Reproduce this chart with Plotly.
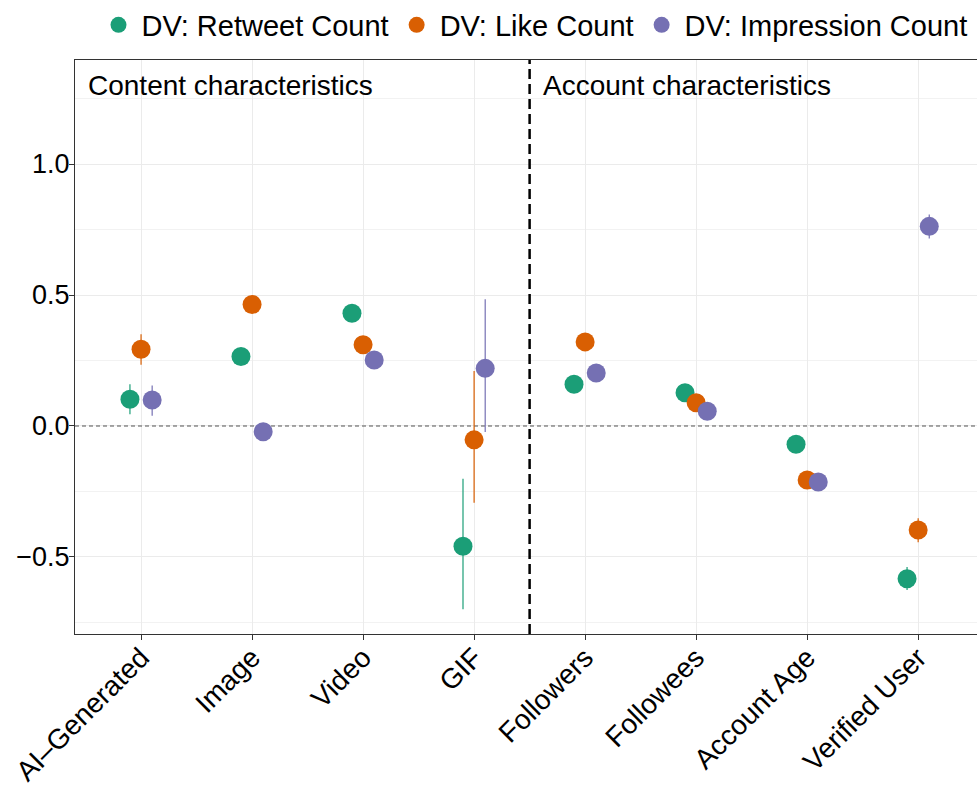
import plotly.graph_objects as go

# Predictors on the x axis
categories = ["AI–Generated", "Image", "Video", "GIF",
              "Followers", "Followees", "Account Age", "Verified User"]

# Standardised coefficient estimates per outcome
retweet_est = [0.102, 0.265, 0.430, -0.459, 0.159, 0.127, -0.070, -0.583]
like_est = [0.293, 0.464, 0.310, -0.053, 0.321, 0.089, -0.206, -0.397]
impression_est = [0.099, -0.022, 0.252, 0.220, 0.202, 0.056, -0.214, 0.762]

# 95% confidence bounds
retweet_lo = [0.045, 0.240, 0.405, -0.700, 0.135, 0.102, -0.095, -0.626]
retweet_hi = [0.159, 0.290, 0.455, -0.201, 0.183, 0.152, -0.045, -0.538]
like_lo = [0.234, 0.440, 0.285, -0.293, 0.296, 0.064, -0.231, -0.444]
like_hi = [0.350, 0.488, 0.335, 0.210, 0.346, 0.114, -0.181, -0.352]
impression_lo = [0.039, -0.047, 0.227, -0.023, 0.177, 0.031, -0.239, 0.716]
impression_hi = [0.155, 0.003, 0.277, 0.484, 0.227, 0.081, -0.189, 0.807]

series = [
    ("DV: Retweet Count", retweet_est, retweet_lo, retweet_hi, "#1B9E77", -0.1),
    ("DV: Like Count", like_est, like_lo, like_hi, "#D95F02", 0.0),
    ("DV: Impression Count", impression_est, impression_lo, impression_hi, "#7570B3", 0.1),
]

FONT = "Liberation Sans, Arial, sans-serif"
X_RANGE = [-0.595, 7.53]
Y_RANGE = [-0.794, 1.397]

fig = go.Figure()
for name, est, lo, hi, color, offset in series:
    xs = [i + offset for i in range(len(categories))]
    fig.add_trace(go.Scatter(
        x=xs, y=est, mode="markers", name=name,
        marker=dict(size=19, color=color, line=dict(width=0)),
        error_y=dict(
            type="data", symmetric=False,
            array=[h - e for h, e in zip(hi, est)],
            arrayminus=[e - l for e, l in zip(est, lo)],
            color=color, thickness=1.2, width=0,
        ),
        cliponaxis=False,
    ))

# zero reference line
fig.add_shape(type="line", xref="x", yref="y", x0=X_RANGE[0], x1=X_RANGE[1], y0=0, y1=0,
              line=dict(color="#555555", width=1.1, dash="4px,3px"), layer="between")
# separator between content and account predictors
fig.add_shape(type="line", xref="x", yref="y", x0=3.5, x1=3.5, y0=Y_RANGE[0], y1=Y_RANGE[1],
              line=dict(color="black", width=2.5, dash="10px,5px"))

fig.add_annotation(x=X_RANGE[0] + 0.1, y=1.298, xref="x", yref="y",
                   text="Content characteristics", showarrow=False,
                   xanchor="left", yanchor="middle",
                   font=dict(family=FONT, size=28, color="black"))
fig.add_annotation(x=3.6, y=1.298, xref="x", yref="y",
                   text="Account characteristics", showarrow=False,
                   xanchor="left", yanchor="middle",
                   font=dict(family=FONT, size=28, color="black"))

fig.update_layout(
    width=977, height=787,
    margin=dict(l=75, r=0, t=60, b=153, autoexpand=False),
    plot_bgcolor="white", paper_bgcolor="white",
    font=dict(family=FONT, size=28, color="black"),
    showlegend=True,
    legend=dict(
        orientation="h", x=0.995, xanchor="right",
        yref="container", y=1 - 25 / 787, yanchor="middle",
        font=dict(family=FONT, size=29, color="black"),
        itemsizing="trace", itemwidth=36, tracegroupgap=0,
        bgcolor="rgba(0,0,0,0)",
    ),
    xaxis=dict(
        range=X_RANGE, automargin=False,
        tickmode="array", tickvals=list(range(len(categories))), ticktext=categories,
        tickangle=-45, ticks="outside", ticklen=5, tickcolor="#333333", tickwidth=1,
        ticklabelstandoff=-10,
        showgrid=True, gridcolor="#EBEBEB", gridwidth=1.2,
        showline=True, linecolor="#333333", linewidth=1.2, mirror=True,
        zeroline=False,
        tickfont=dict(family=FONT, size=28, color="black"),
    ),
    yaxis=dict(
        range=Y_RANGE, automargin=False,
        tickmode="array", tickvals=[-0.5, 0.0, 0.5, 1.0],
        ticktext=["\u22120.5", "0.0", "0.5", "1.0"],
        ticks="outside", ticklen=5, tickcolor="#333333", tickwidth=1,
        ticklabelstandoff=-6,
        showgrid=True, gridcolor="#EBEBEB", gridwidth=1.2,
        minor=dict(tickvals=[-0.75, -0.25, 0.25, 0.75, 1.25], showgrid=True,
                   gridcolor="#F2F2F2", gridwidth=0.8, ticks=""),
        showline=True, linecolor="#333333", linewidth=1.2, mirror=False,
        zeroline=False,
        tickfont=dict(family=FONT, size=27, color="black"),
    ),
)

fig.write_html("out.html")
